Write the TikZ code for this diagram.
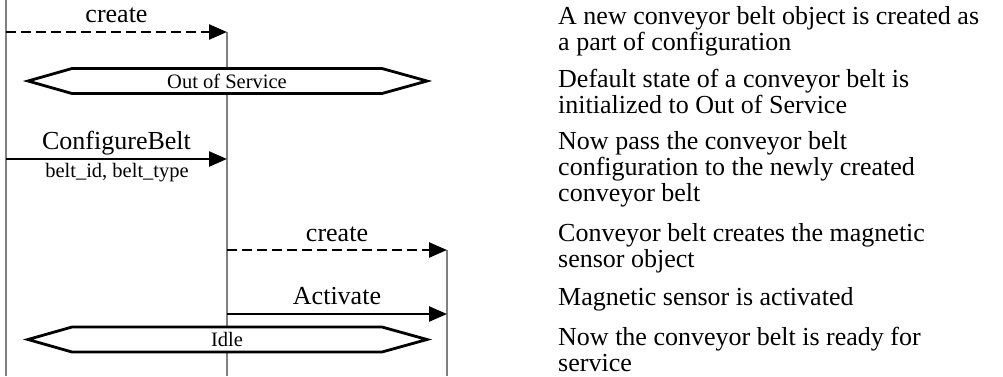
\documentclass[tikz,border=0pt]{standalone}
\usepackage{fontspec}
\setmainfont{Liberation Serif}
\usetikzlibrary{arrows.meta}
\begin{document}
\begin{tikzpicture}[x=1pt,y=-1pt,
  lifeline/.style={draw=black!50, line width=1.6pt},
  msg/.style={line width=2.4pt, -{Triangle[length=18pt,width=15pt]}},
  createmsg/.style={msg, dash pattern=on 10pt off 5pt},
  statebox/.style={draw=black, fill=white, line width=2.8pt, line join=miter},
  biglabel/.style={font=\fontsize{26}{26}\selectfont, inner sep=0pt, anchor=base},
  smalllabel/.style={font=\fontsize{20.5}{20.5}\selectfont, inner sep=0pt, anchor=base},
  desc/.style={font=\fontsize{26}{26}\selectfont, inner sep=0pt, anchor=base west, align=left},
]
\useasboundingbox (0,0) rectangle (1003,376);
% lifelines
\coordinate (a0) at (6,0);   \coordinate (a1) at (6,376);
\coordinate (b0) at (227,32); \coordinate (b1) at (227,376);
\coordinate (c0) at (447,250); \coordinate (c1) at (447,376);
\draw[lifeline] (a0) -- (a1);
\draw[lifeline] (b0) -- (b1);
\draw[lifeline] (c0) -- (c1);
% message anchor points
\coordinate (m1s) at (6,32);   \coordinate (m1e) at (227,32);
\coordinate (m2s) at (6,159);  \coordinate (m2e) at (227,159);
\coordinate (m3s) at (227,250); \coordinate (m3e) at (447,250);
\coordinate (m4s) at (227,314); \coordinate (m4e) at (447,314);
% states
\draw[statebox] (28,81) -- (72,68.5) -- (382,68.5) -- (427,81) -- (382,93.5) -- (72,93.5) -- cycle;
\node[smalllabel] (s1) at (227,88) {Out of Service};
\draw[statebox] (28,339.5) -- (72,327) -- (382,327) -- (427,339.5) -- (382,352) -- (72,352) -- cycle;
\node[smalllabel] (s2) at (227,346.5) {Idle};
% messages
\draw[createmsg] (m1s) -- (m1e);
\node[biglabel] (l1) at (116.5,22) {create};
\draw[msg] (m2s) -- (m2e);
\node[biglabel] (l2) at (116.5,149) {ConfigureBelt};
\node[smalllabel] (l2b) at (117,177) {belt\_id, belt\_type};
\draw[createmsg] (m3s) -- (m3e);
\node[biglabel] (l3) at (337,241) {create};
\draw[msg] (m4s) -- (m4e);
\node[biglabel] (l4) at (337,304) {Activate};
% descriptions (anchored at the baseline of the last line)
\node[desc] (d1) at (558,50) {A new conveyor belt object is created as\\a part of configuration};
\node[desc] (d2) at (558,113) {Default state of a conveyor belt is\\initialized to Out of Service};
\node[desc] (d3) at (558,201) {Now pass the conveyor belt\\configuration to the newly created\\conveyor belt};
\node[desc] (d4) at (558,267) {Conveyor belt creates the magnetic\\sensor object};
\node[desc] (d5) at (558,305) {Magnetic sensor is activated};
\node[desc] (d6) at (558,371) {Now the conveyor belt is ready for\\service};
\end{tikzpicture}
\end{document}
